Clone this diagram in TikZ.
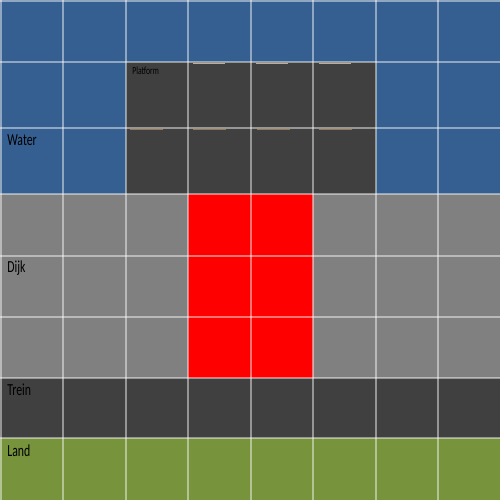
\documentclass[tikz,border=0pt]{standalone}
\usepackage{fontspec}
\usepackage{graphicx}
\setmainfont{Carlito}
\usetikzlibrary{positioning}
\definecolor{watercolor}{HTML}{365F91}
\definecolor{darkcolor}{HTML}{404040}
\definecolor{dikecolor}{HTML}{808080}
\definecolor{hotcolor}{HTML}{FF0000}
\definecolor{landcolor}{HTML}{77933C}
\definecolor{markcolor}{HTML}{B89460}
\newcommand{\narrow}[1]{\scalebox{0.7}[1]{#1}}

\begin{document}
\begin{tikzpicture}[
    x=0.02cm, y=-0.02cm,
    gridline/.style={white, opacity=0.45, line width=0.85pt},
    zonelabel/.style={anchor=base west, inner sep=0pt, text=black, font=\fontsize{9.6}{11}\selectfont},
    smalllabel/.style={anchor=base west, inner sep=0pt, text=black, font=\fontsize{6.2}{7}\selectfont}
]
    \useasboundingbox (0,0) rectangle (500,500);

    % Zones: Water, Dijk, Trein, Land
    \fill[watercolor] (0,0) rectangle (500,194);
    \fill[dikecolor] (0,194) rectangle (500,378);
    \fill[darkcolor] (0,378) rectangle (500,438);
    \fill[landcolor] (0,438) rectangle (500,500);

    % Platform in the water and red block in the dike
    \fill[darkcolor] (126,62) rectangle (376,194);
    \fill[hotcolor] (188,194) rectangle (313,378);

    % Small marks along the platform edges
    \foreach \xa in {193,256,319}
        \draw[markcolor!50!white, opacity=0.8, line width=0.5pt] (\xa,63.5) -- ++(32,0);
    \foreach \xa in {130,193,257,319}
        \draw[markcolor, opacity=0.7, line width=0.4pt] (\xa,129.5) -- ++(33,0);

    % Grid
    \foreach \xa in {1,63,126,188,251,313,376,438}
        \draw[gridline] (\xa,0) -- (\xa,500);
    \foreach \ya in {1,62,128,194,256,317,378,438}
        \draw[gridline] (0,\ya) -- (500,\ya);

    % Labels
    \node[smalllabel] (platform) at (132,74.3) {\narrow{Platform}};
    \node[zonelabel] (water) at (7,145) {\narrow{Water}};
    \node[zonelabel] (dijk) at (7,272.7) {\narrow{Dijk}};
    \node[zonelabel] (trein) at (7,395) {\narrow{Trein}};
    \node[zonelabel] (land) at (7,456) {\narrow{Land}};

\end{tikzpicture}
\end{document}
